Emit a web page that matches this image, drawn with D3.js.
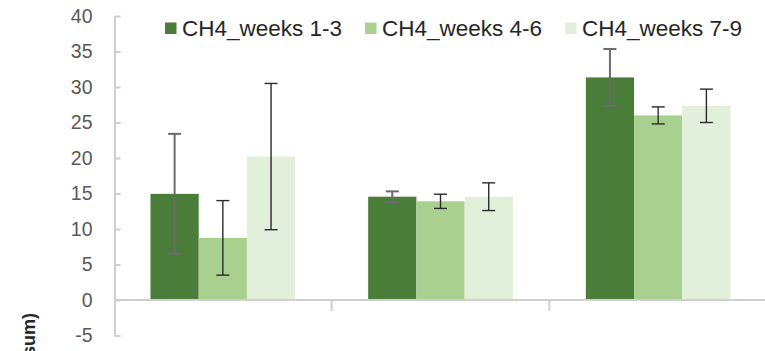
<!DOCTYPE html>
<html lang="en">
<head>
<meta charset="UTF-8">
<title>CH4 weeks</title>
<script src="https://cdn.jsdelivr.net/npm/d3@7"></script>
<style>
  body { margin: 0; background: #fff; }
  svg { display: block; font-family: "Liberation Sans", Arial, sans-serif; }
</style>
</head>
<body>
<script>
var W = 765, H = 351;

// data
var categories = ["Group 1", "Group 2", "Group 3"];
var seriesNames = ["CH4_weeks 1-3", "CH4_weeks 4-6", "CH4_weeks 7-9"];
var seriesColors = ["#4a7d3a", "#a9d08e", "#e2efda"];
var weeks13 = [14.95, 14.55, 31.35];
var weeks46 = [8.75, 13.9, 26.0];
var weeks79 = [20.2, 14.55, 27.35];
var err13 = [8.45, 0.75, 4.0];
var err46 = [5.25, 1.0, 1.2];
var err79 = [10.3, 1.95, 2.35];
var yTicks = [-5, 0, 5, 10, 15, 20, 25, 30, 35, 40];

var seriesValues = [weeks13, weeks46, weeks79];
var seriesErrors = [err13, err46, err79];

var rows = [];
categories.forEach(function (c, ci) {
  seriesNames.forEach(function (s, si) {
    rows.push({cat: c, series: s, si: si, value: seriesValues[si][ci], err: seriesErrors[si][ci]});
  });
});

var x = d3.scaleBand().domain(categories).range([114, 767]).padding(0);
var xs = d3.scaleBand().domain(seriesNames).range([0, x.bandwidth()])
  .paddingInner(0).paddingOuter(0.757);
var y = d3.scaleLinear().domain([-5, 40]).range([335.5, 16]);
var color = d3.scaleOrdinal().domain(seriesNames).range(seriesColors);

var svg = d3.select("body").append("svg").attr("width", W).attr("height", H);

// y axis
var yAxis = d3.axisLeft(y).tickValues(yTicks).tickSizeInner(-6).tickSizeOuter(0).tickPadding(22)
  .tickFormat(function (d) { return String(d); });
var gy = svg.append("g").attr("transform", "translate(114.5,0)").call(yAxis);
gy.select(".domain").attr("stroke", "#cfcfcf").attr("stroke-width", 2);
gy.selectAll(".tick line").attr("stroke", "#cfcfcf").attr("stroke-width", 2);
gy.selectAll(".tick text").attr("fill", "#595959").style("font-size", "19.5px");

// bars
svg.append("g").selectAll("rect").data(rows).enter().append("rect")
  .attr("x", function (d) { return x(d.cat) + xs(d.series); })
  .attr("y", function (d) { return y(Math.max(0, d.value)); })
  .attr("width", xs.bandwidth())
  .attr("height", function (d) { return Math.abs(y(d.value) - y(0)); })
  .attr("fill", function (d) { return color(d.series); });

// x axis line and category dividers
svg.append("line")
  .attr("x1", 114).attr("x2", W).attr("y1", y(0)).attr("y2", y(0))
  .attr("stroke", "#cfcfcf").attr("stroke-width", 2);
svg.append("g").selectAll("line").data(categories.slice(1)).enter().append("line")
  .attr("x1", function (d) { return x(d); }).attr("x2", function (d) { return x(d); })
  .attr("y1", y(0)).attr("y2", y(0) + 11)
  .attr("stroke", "#cfcfcf").attr("stroke-width", 2);

// error bars
var eb = svg.append("g").selectAll("g").data(rows).enter().append("g")
  .attr("stroke", function (d) { return d.si === 0 ? "#6b6b6b" : "#2b2b2b"; })
  .attr("stroke-width", function (d) { return d.si === 0 ? 2 : 1.4; });
eb.append("line")
  .attr("x1", function (d) { return x(d.cat) + xs(d.series) + xs.bandwidth() / 2; })
  .attr("x2", function (d) { return x(d.cat) + xs(d.series) + xs.bandwidth() / 2; })
  .attr("y1", function (d) { return y(d.value + d.err); })
  .attr("y2", function (d) { return y(d.value - d.err); });
["+", "-"].forEach(function (sign) {
  eb.append("line")
    .attr("x1", function (d) { return x(d.cat) + xs(d.series) + xs.bandwidth() / 2 - 6.5; })
    .attr("x2", function (d) { return x(d.cat) + xs(d.series) + xs.bandwidth() / 2 + 6.5; })
    .attr("y1", function (d) { return y(sign === "+" ? d.value + d.err : d.value - d.err); })
    .attr("y2", function (d) { return y(sign === "+" ? d.value + d.err : d.value - d.err); });
});

// legend
var legendX = [165, 365, 565];
var lg = svg.append("g").selectAll("g").data(seriesNames).enter().append("g")
  .attr("transform", function (d, i) { return "translate(" + legendX[i] + ",0)"; });
lg.append("rect").attr("x", 0).attr("y", 22.5).attr("width", 11.5).attr("height", 11.5)
  .attr("fill", function (d) { return color(d); });
lg.append("text").attr("x", 17).attr("y", 36)
  .attr("fill", "#262626").style("font-size", "22.5px")
  .text(function (d) { return d; });

// y axis title (cut off at the bottom edge, as in the source)
svg.append("text")
  .attr("transform", "translate(35,313) rotate(-90)")
  .attr("text-anchor", "end")
  .attr("fill", "#262626").style("font-size", "18px").style("font-weight", "bold")
  .text("CH4 (sum)");
</script>
</body>
</html>
